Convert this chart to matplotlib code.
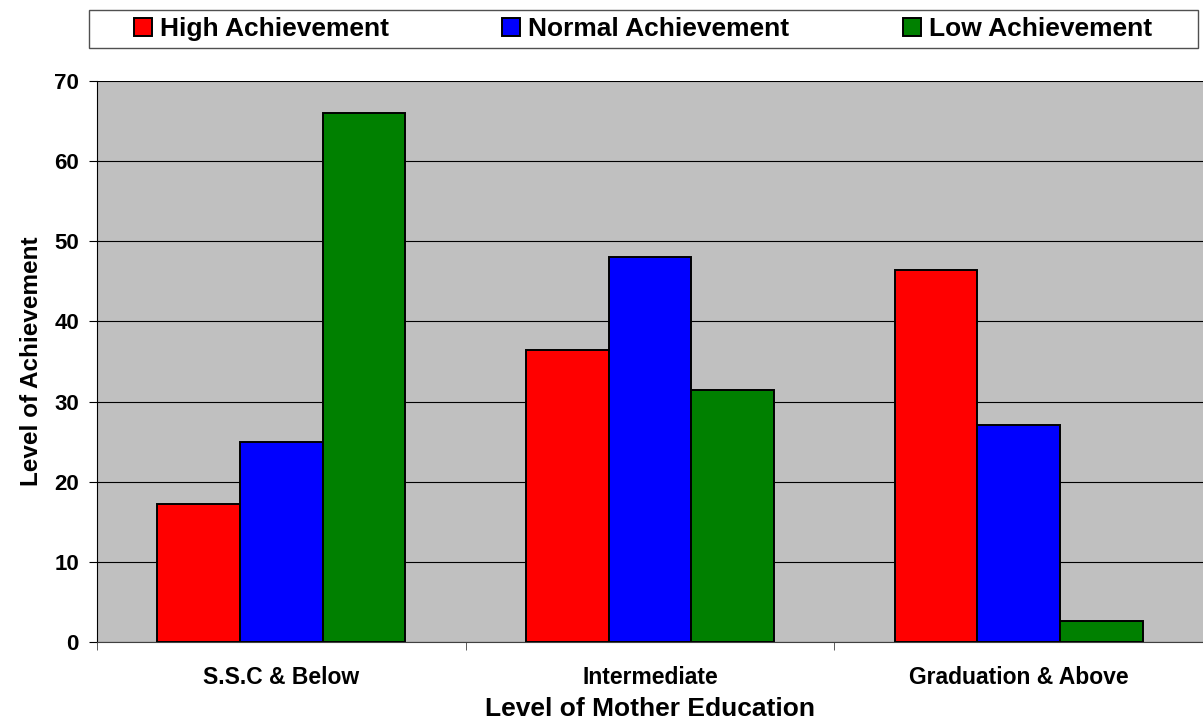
import numpy as np
import matplotlib
matplotlib.use('Agg')
import matplotlib.pyplot as plt
from matplotlib.patches import Rectangle

plt.rcParams['font.family'] = ['Liberation Sans', 'DejaVu Sans']
plt.rcParams['font.weight'] = 'bold'

categories = ['S.S.C & Below', 'Intermediate', 'Graduation & Above']
high = [17.2, 36.4, 46.4]
normal = [24.9, 48.0, 27.1]
low = [66.0, 31.4, 2.6]
series_names = ['High Achievement', 'Normal Achievement', 'Low Achievement']
colors = ['#ff0000', '#0000ff', '#008000']

fig = plt.figure(figsize=(12.03, 7.24), dpi=100)
ax = fig.add_axes([97/1203, 1-642/724, 1-97/1203, (642-81)/724])
ax.set_facecolor('#c0c0c0')

x = np.arange(len(categories))
w = 0.224
for i, (vals, name, c) in enumerate(zip([high, normal, low], series_names, colors)):
    ax.bar(x + (i-1)*w, vals, w, color=c, edgecolor='black', linewidth=1.4, label=name, zorder=3)

ax.set_xlim(-0.5, 2.5)
ax.set_ylim(0, 70)
ax.set_yticks(range(0, 71, 10))
ax.yaxis.grid(True, color='black', linewidth=0.8, zorder=1)
ax.set_xticks(x)
ax.set_xticklabels(categories, fontsize=16.5, fontweight='bold')
ax.tick_params(axis='x', length=0, pad=17)
ax.set_xticks([-0.5, 0.5, 1.5, 2.5], minor=True)
ax.tick_params(axis='x', which='minor', length=6, direction='out', color='#404040')
ax.tick_params(axis='y', length=6, direction='out', labelsize=16, pad=7)
for t in ax.get_yticklabels():
    t.set_fontweight('bold')

for s in ['top', 'right']:
    ax.spines[s].set_visible(False)
ax.spines['left'].set_color('black')
ax.spines['bottom'].set_color('#404040')

ax.set_xlabel('Level of Mother Education', fontsize=19, fontweight='bold', labelpad=6)
ax.set_ylabel('Level of Achievement', fontsize=17.5, fontweight='bold', labelpad=8)

# legend box across the top
fig.patches.append(Rectangle((89/1203, 1-48/724), (1198-89)/1203, 38/724,
                             transform=fig.transFigure, facecolor='white',
                             edgecolor='#505050', linewidth=1.0))
leg = fig.legend(loc='center', bbox_to_anchor=(643/1203, 1-29/724), ncol=3, frameon=False,
                 prop={'size': 19, 'weight': 'bold'}, handlelength=0.68, handleheight=0.68,
                 handletextpad=0.3, columnspacing=4.3, borderpad=0, borderaxespad=0)

fig.savefig('out.png', dpi=100)
